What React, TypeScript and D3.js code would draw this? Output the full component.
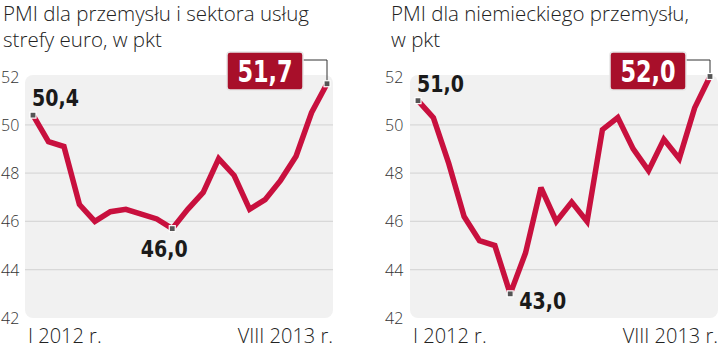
import React from "react";
import * as d3 from "d3";

const months = d3.range(20); // I 2012 .. VIII 2013
const euroValues = [50.4, 49.3, 49.1, 46.7, 46.0, 46.4, 46.5, 46.3, 46.1, 45.7, 46.5, 47.2, 48.6, 47.9, 46.5, 46.9, 47.7, 48.7, 50.5, 51.7];
const germanValues = [51.0, 50.3, 48.4, 46.2, 45.2, 45.0, 43.0, 44.7, 47.4, 46.0, 46.8, 46.0, 49.8, 50.3, 49.0, 48.1, 49.4, 48.6, 50.7, 52.0];
const yTicks = [42, 44, 46, 48, 50, 52];
const xLabels = ["I 2012 r.", "VIII 2013 r."];
const titlesLeft = ["PMI dla przemysłu i sektora usług", "strefy euro, w pkt"];
const titlesRight = ["PMI dla niemieckiego przemysłu,", "w pkt"];
const euroLabels = { first: "50,4", min: "46,0", last: "51,7" };
const germanLabels = { first: "51,0", min: "43,0", last: "52,0" };

const RED = "#c8103e";
const LIGHT = "'Open Sans', 'Roboto', sans-serif";
const BOLD = "'DejaVu Sans Condensed', 'Liberation Sans Narrow', sans-serif";

type PanelProps = {
  values: number[];
  titles: string[];
  labels: { first: string; min: string; last: string };
  x0: number;
  tickX: number;
  bgLeft: number;
  bgRight: number;
  firstX: number;
  lastX: number;
  minLabelDx: number;
  minLabelDy: number;
  minAnchor: "start" | "middle" | "end";
};

function Condensed(props: {
  x: number;
  y: number;
  size: number;
  sx: number;
  anchor?: "start" | "middle" | "end";
  fill: string;
  children: string;
}) {
  return (
    <text
      transform={`translate(${props.x},${props.y}) scale(${props.sx},1)`}
      textAnchor={props.anchor || "start"}
      fontFamily={BOLD}
      fontWeight="bold"
      fontSize={props.size}
      fill={props.fill}
    >
      {props.children}
    </text>
  );
}

function Panel(p: PanelProps) {
  const y = d3.scaleLinear().domain([42, 52]).range([318, 76.5]);
  const x = d3.scaleLinear().domain([0, months.length - 1]).range([p.firstX, p.lastX]);
  const line = d3
    .line<number>()
    .x((_, i) => x(i))
    .y((d) => y(d))
    .curve(d3.curveLinear);
  const n = p.values.length;
  const minIdx = p.values.indexOf(d3.min(p.values) as number);
  const lastX = x(n - 1);
  const lastY = y(p.values[n - 1]);
  const boxW = 76;
  const boxH = 38;
  const boxRight = lastX - 24;
  const boxTop = 52;
  const connY = 60;
  const marker = (cx: number, cy: number, key: string) => (
    <rect key={key} x={cx - 3} y={cy - 3} width={6} height={6} fill="#555" stroke="#fff" strokeWidth={1.2} />
  );
  const cx = boxRight - boxW / 2;
  return (
    <g>
      {p.titles.map((t, i) => (
        <text key={t} x={p.x0} y={21 + i * 26} fontFamily={LIGHT} fontWeight={300} fontSize={20.5} fill="#222">
          {t}
        </text>
      ))}
      <rect x={p.bgLeft} y={75} width={p.bgRight - p.bgLeft} height={318 - 75} rx={8} fill="#f1f1f1" />
      {yTicks.slice(1, -1).map((t) => (
        <line key={t} x1={p.bgLeft} x2={p.bgRight} y1={y(t)} y2={y(t)} stroke="#d8d8d8" strokeWidth={1.2} />
      ))}
      {yTicks.map((t) => (
        <text key={t} x={p.tickX} y={y(t) + 6} fontFamily={LIGHT} fontWeight={300} fontSize={16} fill="#333">
          {t}
        </text>
      ))}
      <path d={line(p.values) || ""} fill="none" stroke={RED} strokeWidth={5.5} strokeLinejoin="miter" strokeMiterlimit={3} />
      <polyline
        points={`${boxRight},${connY} ${lastX},${connY} ${lastX},${lastY}`}
        fill="none"
        stroke="#333"
        strokeWidth={1}
      />
      {marker(x(0), y(p.values[0]), "m0")}
      {marker(x(minIdx), y(p.values[minIdx]), "mmin")}
      {marker(lastX, lastY, "mlast")}
      <Condensed x={x(0) - 1} y={y(p.values[0]) - 9} size={23} sx={0.92} fill="#1a1a1a">
        {p.labels.first}
      </Condensed>
      <Condensed
        x={x(minIdx) + p.minLabelDx}
        y={y(p.values[minIdx]) + p.minLabelDy}
        size={23}
        sx={0.92}
        anchor={p.minAnchor}
        fill="#1a1a1a"
      >
        {p.labels.min}
      </Condensed>
      <rect x={boxRight - boxW} y={boxTop} width={boxW} height={boxH} rx={3} fill="#a80f2a" stroke="#e6e6e6" strokeWidth={1.5} />
      <Condensed x={cx} y={boxTop + 30} size={30} sx={0.83} anchor="middle" fill="#fff">
        {p.labels.last}
      </Condensed>
      <text x={p.bgLeft + 3} y={343} fontFamily={LIGHT} fontWeight={300} fontSize={20} fill="#222">
        {xLabels[0]}
      </text>
      <text x={p.bgRight} y={343} textAnchor="end" fontFamily={LIGHT} fontWeight={300} fontSize={20} fill="#222">
        {xLabels[1]}
      </text>
    </g>
  );
}

export default function App() {
  return (
    <svg width={721} height={349} style={{ position: "absolute", left: 0, top: 0, background: "#fff" }}>
      <Panel
        values={euroValues}
        titles={titlesLeft}
        labels={euroLabels}
        x0={3}
        tickX={1}
        bgLeft={25}
        bgRight={333}
        firstX={33}
        lastX={327}
        minLabelDx={-8}
        minLabelDy={28}
        minAnchor="middle"
      />
      <Panel
        values={germanValues}
        titles={titlesRight}
        labels={germanLabels}
        x0={391}
        tickX={385}
        bgLeft={410}
        bgRight={718}
        firstX={418}
        lastX={710}
        minLabelDx={9}
        minLabelDy={15}
        minAnchor="start"
      />
    </svg>
  );
}
